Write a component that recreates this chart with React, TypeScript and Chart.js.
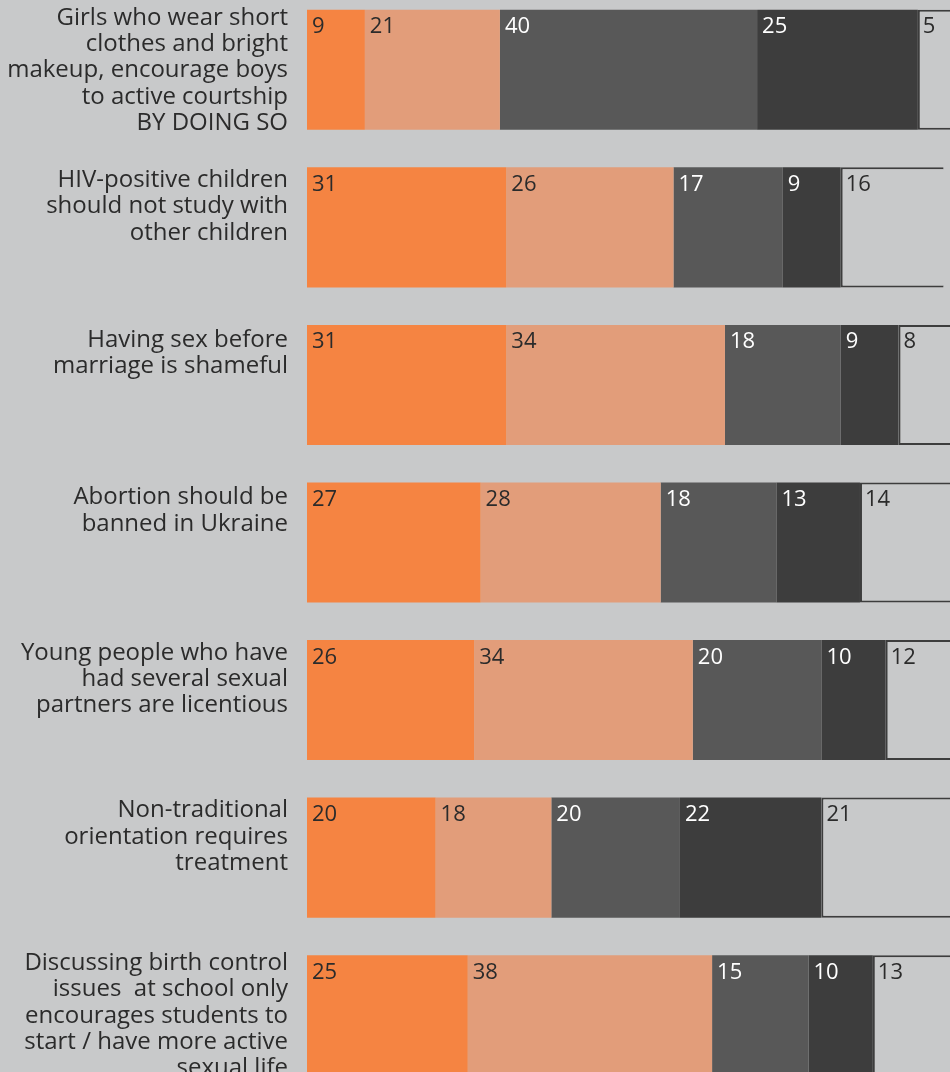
import React, { useEffect, useRef } from 'react';
import { Chart, registerables } from 'chart.js';

Chart.register(...registerables);

const categories: string[][] = [
  ['Girls who wear short', 'clothes and bright', 'makeup, encourage boys', 'to active courtship', 'BY DOING SO'],
  ['HIV-positive children', 'should not study with', 'other children'],
  ['Having sex before', 'marriage is shameful'],
  ['Abortion should be', 'banned in Ukraine'],
  ['Young people who have', 'had several sexual', 'partners are licentious'],
  ['Non-traditional', 'orientation requires', 'treatment'],
  ['Discussing birth control', 'issues  at school only', 'encourages students to', 'start / have more active', 'sexual life'],
];

const series1 = [9, 31, 31, 27, 26, 20, 25];
const series2 = [21, 26, 34, 28, 34, 18, 38];
const series3 = [40, 17, 18, 18, 20, 20, 15];
const series4 = [25, 9, 9, 13, 10, 22, 10];
const series5 = [5, 16, 8, 14, 12, 21, 13];

const BG = '#c8c9ca';
const TEXT_DARK = '#2b2b2b';
const FONT = '"Open Sans", "Noto Sans", sans-serif';

const seriesColors = ['#f58442', '#e29d7a', '#585858', '#3d3d3d', BG];
const labelColors = [TEXT_DARK, TEXT_DARK, '#ffffff', '#ffffff', TEXT_DARK];

const valueLabelsPlugin = {
  id: 'valueLabels',
  afterDatasetsDraw(chart: any) {
    const ctx = chart.ctx;
    ctx.save();
    ctx.font = `22px ${FONT}`;
    ctx.textAlign = 'left';
    ctx.textBaseline = 'alphabetic';
    chart.data.datasets.forEach((ds: any, di: number) => {
      const meta = chart.getDatasetMeta(di);
      meta.data.forEach((el: any, i: number) => {
        const left = Math.min(el.x, el.base);
        const top = el.y - el.height / 2;
        ctx.fillStyle = labelColors[di];
        ctx.fillText(String(ds.data[i]), left + 5, top + 23.5);
      });
    });
    ctx.restore();
  },
};

const categoryLabelsPlugin = {
  id: 'categoryLabels',
  afterDraw(chart: any) {
    const ctx = chart.ctx;
    const meta = chart.getDatasetMeta(0);
    const xRight = chart.chartArea.left - 19;
    const lineHeight = 26.3;
    ctx.save();
    ctx.font = `24px ${FONT}`;
    ctx.textAlign = 'right';
    ctx.textBaseline = 'alphabetic';
    ctx.fillStyle = TEXT_DARK;
    categories.forEach((lines, i) => {
      const el = meta.data[i];
      const top = el.y - el.height / 2;
      const firstBaseline = top + 26.5 - 2.3 * lines.length;
      lines.forEach((line, li) => {
        ctx.fillText(line, xRight, firstBaseline + li * lineHeight);
      });
    });
    ctx.restore();
  },
};

export default function App() {
  const canvasRef = useRef<HTMLCanvasElement | null>(null);

  useEffect(() => {
    if (!canvasRef.current) return;
    const allSeries = [series1, series2, series3, series4, series5];
    const chart = new Chart(canvasRef.current, {
      type: 'bar',
      data: {
        labels: categories.map((c) => c.join(' ')),
        datasets: allSeries.map((data, di) => ({
          label: `s${di + 1}`,
          data,
          backgroundColor: seriesColors[di],
          borderColor: di === 4 ? '#3d3d3d' : seriesColors[di],
          borderWidth: di === 4 ? 2 : 0,
          borderSkipped: di === 4 ? 'right' : 'start',
          barPercentage: 0.762,
          categoryPercentage: 1,
        })),
      },
      options: {
        indexAxis: 'y',
        responsive: false,
        animation: false,
        devicePixelRatio: 1,
        layout: { padding: { left: 307, right: 0, top: 0, bottom: 0 } },
        plugins: {
          legend: { display: false },
          tooltip: { enabled: false },
          title: { display: false },
        },
        scales: {
          x: { stacked: true, min: 0, max: 100, display: false },
          y: { stacked: true, display: false },
        },
      },
      plugins: [valueLabelsPlugin, categoryLabelsPlugin],
    } as any);
    if ((document as any).fonts && (document as any).fonts.load) {
      (document as any).fonts.load(`24px "Open Sans"`).then(() => chart.update()).catch(() => {});
    }
    return () => chart.destroy();
  }, []);

  return (
    <div
      style={{
        position: 'absolute',
        left: 0,
        top: 0,
        width: 950,
        height: 1072,
        overflow: 'hidden',
        background: BG,
      }}
    >
      <div style={{ position: 'absolute', left: 0, top: -9, width: 950, height: 1103 }}>
        <canvas ref={canvasRef} width={950} height={1103} style={{ display: 'block' }} />
      </div>
    </div>
  );
}
